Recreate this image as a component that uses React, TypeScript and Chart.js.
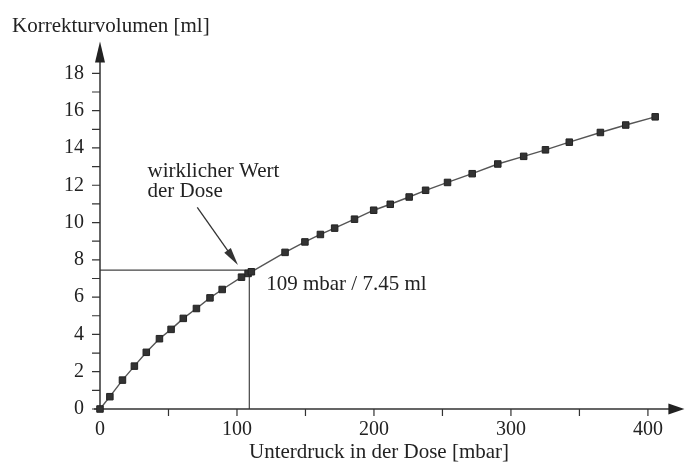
import React, { useEffect, useRef } from "react";
import { Chart, registerables } from "chart.js";

Chart.register(...registerables);

// Unterdruck in der Dose [mbar]
const pressure = [
  0, 7.2, 16.4, 25.1, 33.8, 43.4, 51.9, 60.8, 70.4, 80.3, 89.2, 103.3, 108.1, 110.5,
  135.1, 149.6, 160.9, 171.3, 185.8, 199.8, 211.9, 225.7, 237.7, 253.7, 271.7, 290.4,
  309.3, 325.2, 342.6, 365.3, 383.8, 405.3,
];
// Korrekturvolumen [ml]
const volume = [
  0, 0.66, 1.55, 2.3, 3.04, 3.77, 4.27, 4.86, 5.39, 5.96, 6.41, 7.07, 7.27, 7.36,
  8.4, 8.96, 9.36, 9.7, 10.18, 10.66, 10.98, 11.37, 11.73, 12.15, 12.62, 13.14,
  13.55, 13.9, 14.31, 14.83, 15.23, 15.67,
];

const xTickLabels = [0, 100, 200, 300, 400];
const yTickLabels = [0, 2, 4, 6, 8, 10, 12, 14, 16, 18];
const xMinorTicks = [50, 100, 150, 200, 250, 300, 350, 400];
const yMinorTicks = [0, 1, 2, 3, 4, 5, 6, 7, 8, 9, 10, 11, 12, 13, 14, 15, 16, 17, 18];

const refPoint = { x: 109, y: 7.45 };
const refLabel = "109 mbar / 7.45 ml";
const noteLines = ["wirklicher Wert", "der Dose"];
const noteAnchor = { x: 34.7, y: 12.46 };
const refLabelAnchor = { x: 121.3, y: 6.38 };
const noteArrow = { from: { x: 71, y: 10.81 }, to: { x: 100.7, y: 7.72 } };

const xTitle = "Unterdruck in der Dose [mbar]";
const yTitle = "Korrekturvolumen [ml]";

const FONT = "'Liberation Serif', 'Times New Roman', serif";
const INK = "#222";

function arrowHead(ctx: CanvasRenderingContext2D, fx: number, fy: number, tx: number, ty: number, len: number, half: number) {
  const a = Math.atan2(ty - fy, tx - fx);
  const bx = tx - len * Math.cos(a);
  const by = ty - len * Math.sin(a);
  ctx.beginPath();
  ctx.moveTo(tx, ty);
  ctx.lineTo(bx + half * Math.sin(a), by - half * Math.cos(a));
  ctx.lineTo(bx - half * Math.sin(a), by + half * Math.cos(a));
  ctx.closePath();
  ctx.fill();
}

const overlay = {
  id: "overlay",
  beforeDatasetsDraw(chart: any) {
    const { ctx, chartArea, scales } = chart;
    const x = scales.x;
    const y = scales.y;
    const x0 = x.getPixelForValue(0);
    const y0 = y.getPixelForValue(0);
    ctx.save();
    // reference lines
    ctx.strokeStyle = "#444";
    ctx.lineWidth = 1.2;
    const rx = x.getPixelForValue(refPoint.x);
    const ry = y.getPixelForValue(refPoint.y);
    ctx.beginPath();
    ctx.moveTo(x0, ry);
    ctx.lineTo(rx, ry);
    ctx.moveTo(rx, y0);
    ctx.lineTo(rx, ry);
    ctx.stroke();

    // axes
    ctx.strokeStyle = "#333";
    ctx.fillStyle = "#222";
    ctx.lineWidth = 1.5;
    ctx.beginPath();
    ctx.moveTo(x0, y0);
    ctx.lineTo(x0, chartArea.top + 10);
    ctx.moveTo(x0 - 6, y0);
    ctx.lineTo(chartArea.right - 8, y0);
    ctx.stroke();
    arrowHead(ctx, x0, y0, x0, chartArea.top + 1.5, 21, 5);
    arrowHead(ctx, x0, y0, chartArea.right + 1, y0, 16, 5.5);

    // ticks
    ctx.lineWidth = 1.2;
    ctx.beginPath();
    yMinorTicks.forEach((v) => {
      const py = y.getPixelForValue(v);
      ctx.moveTo(x0 - 8, py);
      ctx.lineTo(x0, py);
    });
    xMinorTicks.forEach((v) => {
      const px = x.getPixelForValue(v);
      ctx.moveTo(px, y0);
      ctx.lineTo(px, y0 + 7);
    });
    ctx.stroke();
    ctx.restore();
  },
  afterDraw(chart: any) {
    const { ctx, scales, width } = chart;
    const x = scales.x;
    const y = scales.y;
    ctx.save();
    ctx.fillStyle = INK;
    ctx.strokeStyle = "#333";
    ctx.font = `21px ${FONT}`;
    ctx.textBaseline = "alphabetic";
    ctx.textAlign = "left";
    ctx.fillText(yTitle, 12, 32);
    ctx.textAlign = "center";
    ctx.fillText(xTitle, 379, 458);

    ctx.textAlign = "left";
    const nx = x.getPixelForValue(noteAnchor.x);
    const ny = y.getPixelForValue(noteAnchor.y);
    noteLines.forEach((t, i) => ctx.fillText(t, nx, ny + i * 20));
    ctx.fillText(refLabel, x.getPixelForValue(refLabelAnchor.x), y.getPixelForValue(refLabelAnchor.y));

    const fx = x.getPixelForValue(noteArrow.from.x);
    const fy = y.getPixelForValue(noteArrow.from.y);
    const tx = x.getPixelForValue(noteArrow.to.x);
    const ty = y.getPixelForValue(noteArrow.to.y);
    ctx.lineWidth = 1.3;
    ctx.beginPath();
    ctx.moveTo(fx, fy);
    const a = Math.atan2(ty - fy, tx - fx);
    ctx.lineTo(tx - 10 * Math.cos(a), ty - 10 * Math.sin(a));
    ctx.stroke();
    ctx.fillStyle = "#333";
    arrowHead(ctx, fx, fy, tx, ty, 18, 4);
    ctx.restore();
  },
};

export default function App() {
  const ref = useRef<HTMLCanvasElement | null>(null);
  useEffect(() => {
    if (!ref.current) return;
    const chart = new Chart(ref.current, {
      type: "scatter",
      data: {
        datasets: [
          {
            data: pressure.map((p, i) => ({ x: p, y: volume[i] })),
            showLine: true,
            borderColor: "#555",
            borderWidth: 1.4,
            pointStyle: "rect",
            pointRadius: 4.6,
            pointBackgroundColor: "#333",
            pointBorderColor: "#222",
            pointBorderWidth: 1,
            clip: false as any,
          },
        ],
      },
      options: {
        animation: false,
        responsive: true,
        maintainAspectRatio: false,
        layout: { padding: { top: 40, right: 0, left: 0, bottom: 0 } },
        plugins: { legend: { display: false }, tooltip: { enabled: false } },
        scales: {
          x: {
            type: "linear",
            min: 0,
            max: 425.9,
            border: { display: false },
            grid: { display: false, drawTicks: false },
            afterFit: (s: any) => {
              s.height = 55;
            },
            afterBuildTicks: (s: any) => {
              s.ticks = xTickLabels.map((v) => ({ value: v }));
            },
            ticks: {
              padding: 9,
              maxRotation: 0,
              autoSkip: false,
              color: INK,
              font: { family: FONT, size: 20 },
              callback: (v: any) => String(v),
            },
          },
          y: {
            type: "linear",
            min: 0,
            max: 19.79,
            border: { display: false },
            grid: { display: false, drawTicks: false },
            afterFit: (s: any) => {
              s.width = 100;
            },
            afterBuildTicks: (s: any) => {
              s.ticks = yTickLabels.map((v) => ({ value: v }));
            },
            ticks: {
              padding: 16,
              autoSkip: false,
              color: INK,
              font: { family: FONT, size: 20 },
              callback: (v: any) => String(v),
            },
          },
        },
      },
      plugins: [overlay],
    });
    return () => chart.destroy();
  }, []);
  return (
    <div style={{ position: "absolute", left: 0, top: 0, width: 689, height: 464, background: "#fff" }}>
      <canvas ref={ref} />
    </div>
  );
}
